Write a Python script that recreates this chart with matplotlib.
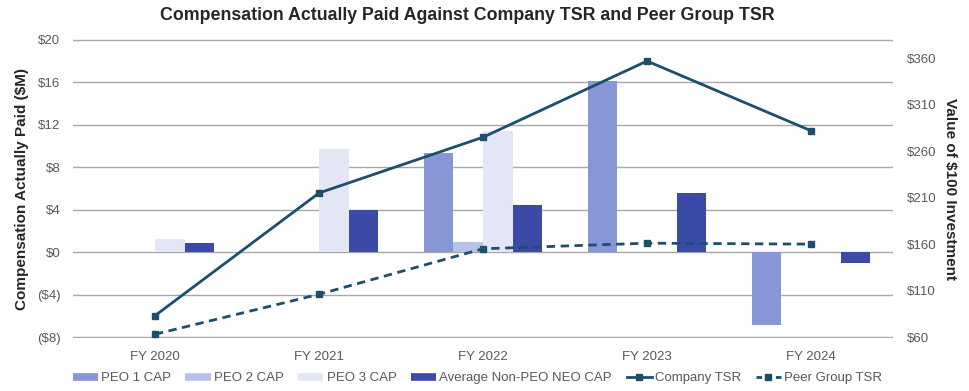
import numpy as np
import matplotlib
matplotlib.use("Agg")
import matplotlib.pyplot as plt
from matplotlib.lines import Line2D

plt.rcParams['font.family'] = ['Liberation Sans', 'DejaVu Sans']

# data
years = ["FY 2020", "FY 2021", "FY 2022", "FY 2023", "FY 2024"]
peo1_cap = [np.nan, np.nan, 9.35, 16.1, -6.85]
peo2_cap = [np.nan, np.nan, 0.95, np.nan, np.nan]
peo3_cap = [1.25, 9.75, 11.45, np.nan, np.nan]
avg_neo_cap = [0.9, 4.0, 4.45, 5.55, -1.05]
company_tsr = [83, 215, 275, 357, 282]
peer_tsr = [63, 106, 155, 161, 160]

left_ticks = [-8, -4, 0, 4, 8, 12, 16, 20]
left_labels = ["($8)", "($4)", "$0", "$4", "$8", "$12", "$16", "$20"]
right_ticks = [60, 110, 160, 210, 260, 310, 360]
right_labels = ["$60", "$110", "$160", "$210", "$260", "$310", "$360"]

bar_cols = ["#8796d6", "#b7c2ea", "#e3e7f5", "#3a4aa6"]
line_col = "#1b4f6c"
grey = "#595959"

fig = plt.figure(figsize=(9.7, 3.91), dpi=100)
ax = fig.add_axes([73 / 970, 1 - 338 / 391, 820 / 970, 299 / 391])
ax2 = ax.twinx()

x = np.arange(len(years))
w = 0.18
series = [("PEO 1 CAP", peo1_cap), ("PEO 2 CAP", peo2_cap),
          ("PEO 3 CAP", peo3_cap), ("Average Non-PEO NEO CAP", avg_neo_cap)]
for i, (lab, vals) in enumerate(series):
    ax.bar(x + (i - 1.5) * w, vals, width=w, color=bar_cols[i], label=lab, zorder=2)

ax.set_xlim(-0.5, 4.5)
ax.set_ylim(-8.09, 20.09)
ax.set_yticks(left_ticks)
ax.set_yticklabels(left_labels)
ax.set_xticks(x)
ax.set_xticklabels(years)
ax.grid(axis="y", color="#a8a8a8", lw=1, zorder=0)
ax.set_axisbelow(True)
ax.tick_params(length=0, labelsize=9.5, colors=grey, pad=9)
ax.tick_params(axis="x", pad=9)
ax.set_ylabel("Compensation Actually Paid ($M)", fontsize=11, fontweight="bold",
              color="#262626", labelpad=6)

ax2.plot(x, company_tsr, color=line_col, lw=2, marker="s", ms=5, label="Company TSR")
ax2.plot(x, peer_tsr, color=line_col, lw=2, ls=(0, (3, 2)), marker="s", ms=5,
         label="Peer Group TSR")
# right scale shares the pixel span of the left one: 60 at the bottom line
ax2.set_ylim(60 - 0.09 * 297 / 28 / 0.929, 379.7 + 0.09 * 297 / 28 / 0.929)
ax2.set_yticks(right_ticks)
ax2.set_yticklabels(right_labels)
ax2.tick_params(length=0, labelsize=9.5, colors=grey, pad=10)
ax2.set_ylabel("Value of $100 Investment", fontsize=11, fontweight="bold",
               color="#262626", rotation=270, labelpad=15)

for a in (ax, ax2):
    for s in a.spines.values():
        s.set_visible(False)

fig.suptitle("Compensation Actually Paid Against Company TSR and Peer Group TSR",
             x=0.482, y=0.982, fontsize=12.8, fontweight="bold", color="#262626")

handles = [Line2D([], [], color=c, lw=5.5, solid_capstyle="butt") for c in bar_cols]
handles += [Line2D([], [], color=line_col, lw=2, marker="s", ms=4),
            Line2D([], [], color=line_col, lw=2, ls=(0, (2, 1.5)), marker="s", ms=4)]
labels = [s[0] for s in series] + ["Company TSR", "Peer Group TSR"]
leg = fig.legend(handles, labels, loc="center", bbox_to_anchor=(0.492, 0.033), ncol=6,
                 frameon=False, fontsize=9.5, handlelength=1.9, columnspacing=1.1,
                 handletextpad=0.25)
for t in leg.get_texts():
    t.set_color(grey)

fig.savefig("out.png", dpi=100)
